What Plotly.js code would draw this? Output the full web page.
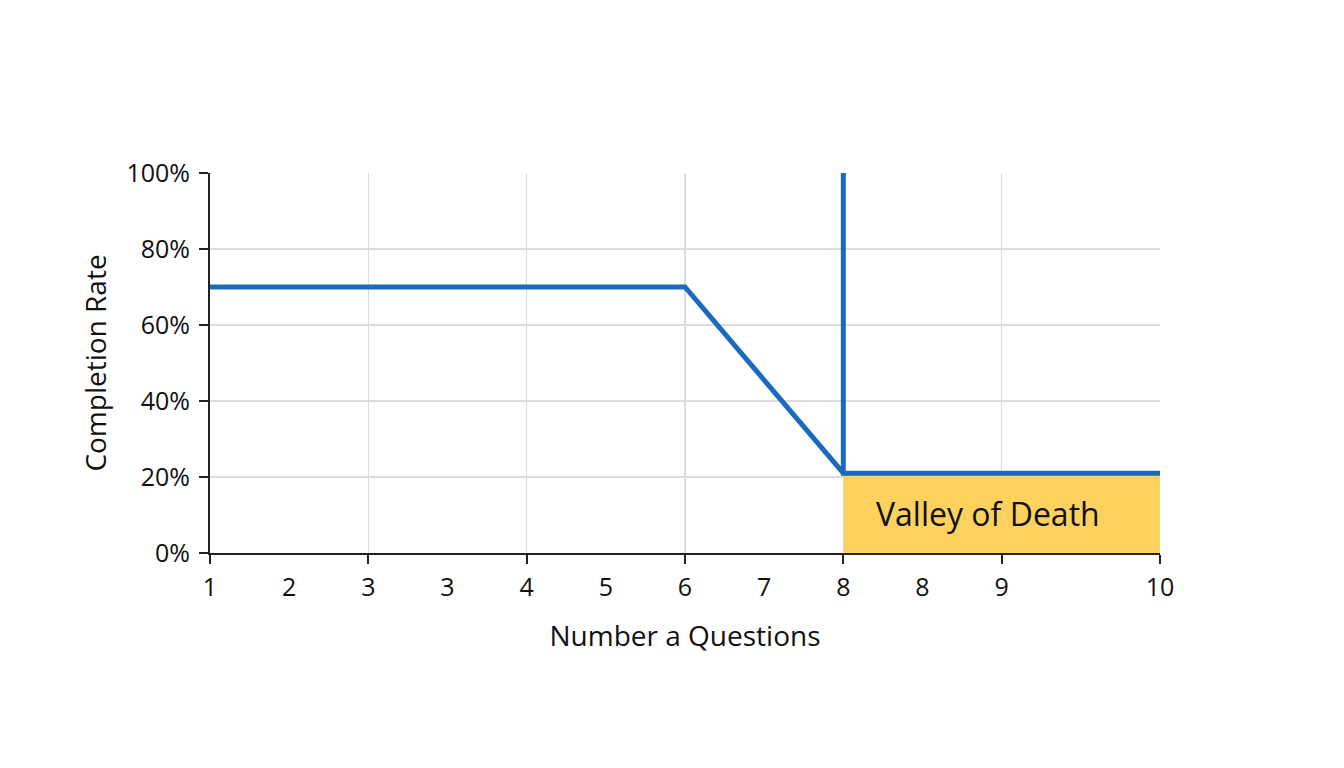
<!DOCTYPE html>
<html>
<head>
<meta charset="utf-8">
<script src="https://cdn.plot.ly/plotly-3.0.1.min.js"></script>
<style>
    html, body { margin: 0; padding: 0; background: #fff; }
    #chart { width: 1344px; height: 768px; }
</style>
</head>
<body>
<div id="chart"></div>
<script>
// Tick positions run 0..12, the labels are what the picture prints under them
const tickPositions = [0, 1, 2, 3, 4, 5, 6, 7, 8, 9, 10, 11, 12];
const tickLabels = ['1', '2', '3', '3', '4', '5', '6', '7', '8', '8', '9', '', '10'];
const gridPositions = [0, 2, 4, 6, 8, 10, 12];

// Completion rate line (%)
const lineX = [0, 6, 8, 8, 8, 12];
const lineY = [70, 70, 21, 100, 21, 21];

// Valley of Death band
const valleyX = [8, 12];
const valleyY = [21, 21];
const valleyLabel = 'Valley of Death';
const valleyLabelPos = [9.83, 10.3];

const FONT = '"Open Sans", "Noto Sans", sans-serif';
const BLUE = '#1a6bbd';

const traces = [
    {
        x: valleyX,
        y: valleyY,
        type: 'scatter',
        mode: 'lines',
        fill: 'tozeroy',
        fillcolor: '#fdd15e',
        line: { width: 0 },
        hoverinfo: 'skip',
    },
    {
        x: lineX,
        y: lineY,
        type: 'scatter',
        mode: 'lines',
        line: { color: BLUE, width: 5 },
        cliponaxis: false,
    },
];

const layout = {
    width: 1344,
    height: 768,
    paper_bgcolor: '#ffffff',
    plot_bgcolor: '#ffffff',
    showlegend: false,
    font: { family: FONT, color: '#111', size: 25 },
    margin: { l: 210, r: 184, t: 173, b: 215 },
    xaxis: {
        range: [0, 12],
        tickmode: 'array',
        tickvals: tickPositions,
        ticktext: tickLabels,
        ticks: '',
        showgrid: false,
        zeroline: false,
        showline: true,
        linecolor: '#222',
        linewidth: 2,
        ticklabelstandoff: 11,
        tickfont: { size: 25, family: FONT },
        minor: {
            tickmode: 'array',
            tickvals: gridPositions,
            ticks: 'outside',
            ticklen: 9,
            tickwidth: 2,
            tickcolor: '#222',
            showgrid: true,
            gridcolor: '#dcdcdc',
            gridwidth: 1.5,
        },
        title: { text: 'Number a Questions', font: { size: 28, family: FONT }, standoff: 24 },
    },
    yaxis: {
        range: [0, 100],
        tickmode: 'linear',
        tick0: 0,
        dtick: 20,
        ticksuffix: '%',
        ticks: 'outside',
        ticklen: 9,
        tickwidth: 2,
        tickcolor: '#222',
        showgrid: true,
        gridcolor: '#dcdcdc',
        gridwidth: 1.5,
        zeroline: false,
        showline: true,
        linecolor: '#222',
        linewidth: 2,
        ticklabelstandoff: 4,
        tickfont: { size: 25, family: FONT },
        title: { text: 'Completion Rate', font: { size: 28, family: FONT }, standoff: 12 },
    },
    annotations: [
        {
            x: valleyLabelPos[0],
            y: valleyLabelPos[1],
            xref: 'x',
            yref: 'y',
            text: valleyLabel,
            showarrow: false,
            font: { size: 32, family: FONT, color: '#111' },
        },
    ],
};

Plotly.newPlot('chart', traces, layout, { displayModeBar: false, staticPlot: true });
</script>
</body>
</html>
